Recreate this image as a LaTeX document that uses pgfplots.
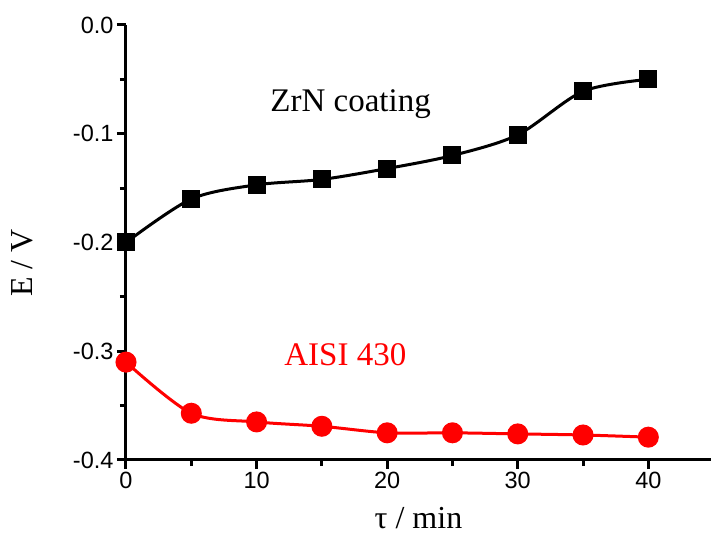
\documentclass[border=0pt]{standalone}
\usepackage{fontspec}
\setmainfont{Liberation Serif}
\newfontfamily\arial{Liberation Sans}
\usepackage{pgfplots}
\pgfplotsset{compat=1.18}

\begin{document}
\begin{tikzpicture}
\useasboundingbox (-126pt,-74pt) rectangle (585pt,460pt);
\begin{axis}[
  scale only axis,
  width=585pt, height=435pt,
  xmin=0, xmax=44.8, ymin=-0.4, ymax=0,
  axis x line*=bottom, axis y line*=left,
  axis line style={line width=3pt},
  xtick={0,10,20,30,40}, ytick={-0.4,-0.3,-0.2,-0.1,0},
  minor tick num=1,
  tick align=outside,
  major tick length=9pt, minor tick length=6pt,
  every tick/.style={line width=3pt, black},
  tick label style={font=\arial\fontsize{23.5}{27}\selectfont},
  /pgf/number format/assume math mode=true,
  yticklabel style={/pgf/number format/.cd, fixed, fixed zerofill, precision=1},
  label style={font=\fontsize{32}{36}\selectfont},
  xlabel={τ / min}, ylabel={E / V},
  xlabel style={at={([yshift=-58pt]axis description cs:0.5,0)}, anchor=center},
  ylabel style={at={([xshift=-104pt]axis description cs:0,0.453)}, anchor=center},
  clip=false,
]
\addplot[black, line width=3pt, smooth, tension=0.5, mark=square*, mark size=7.5pt] coordinates {
  (0,-0.200) (5,-0.160) (10,-0.147) (15,-0.142) (20,-0.132)
  (25,-0.120) (30,-0.101) (35,-0.061) (40,-0.050)};
\addplot[red, line width=3pt, smooth, tension=0.5, mark=*, mark size=9pt] coordinates {
  (0,-0.310) (5,-0.357) (10,-0.365) (15,-0.369) (20,-0.375)
  (25,-0.375) (30,-0.376) (35,-0.377) (40,-0.379)};
\node[font=\fontsize{33}{36}\selectfont] at (axis cs:17.2,-0.073) {ZrN coating};
\node[font=\fontsize{33}{36}\selectfont, text=red] at (axis cs:16.8,-0.303) {AISI 430};
\end{axis}
\end{tikzpicture}
\end{document}
